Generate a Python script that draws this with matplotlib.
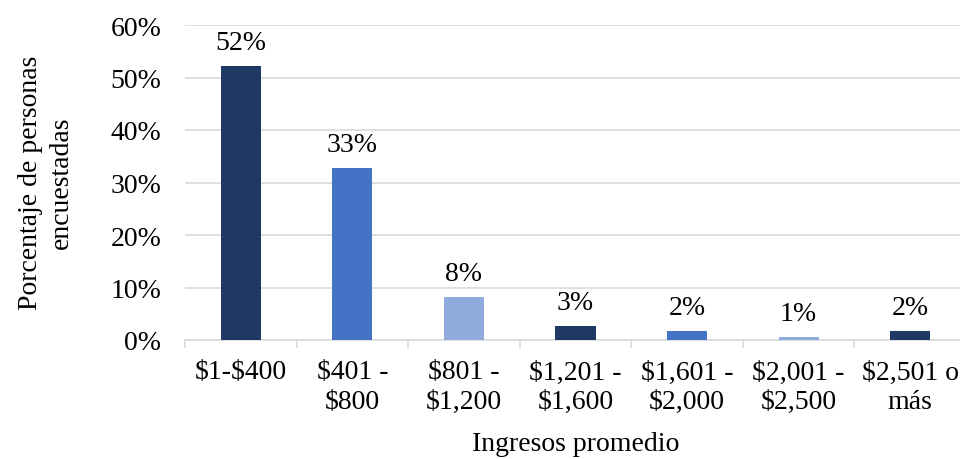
import matplotlib.pyplot as plt
from matplotlib.ticker import FixedLocator, PercentFormatter

plt.rcParams['font.family'] = ['Liberation Serif', 'DejaVu Serif']

# Distribución de ingresos de las personas encuestadas
rangos = ["\\$1-\\$400", "\\$401 -\n\\$800", "\\$801 -\n\\$1,200", "\\$1,201 -\n\\$1,600",
          "\\$1,601 -\n\\$2,000", "\\$2,001 -\n\\$2,500", "\\$2,501 o\nmás"]
porcentajes = [52.1, 32.7, 8.2, 2.6, 1.7, 0.6, 1.7]
colores = ["#203864", "#4472C4", "#8FAADC", "#203864", "#4472C4", "#8FAADC", "#203864"]

fs = 20

fig = plt.figure(figsize=(9.6, 4.6), dpi=100)
ax = fig.add_axes([185 / 960, 1 - 341 / 460, 781 / 960, 315 / 460])

x = range(len(rangos))
barras = ax.bar(x, porcentajes, width=0.36, color=colores, zorder=3)

for b, v in zip(barras, porcentajes):
    ax.annotate(f"{round(v):.0f}%", (b.get_x() + b.get_width() / 2, v),
                xytext=(0, 8), textcoords="offset points",
                ha="center", va="bottom", fontsize=fs)

ax.set_xlim(-0.5, len(rangos) - 0.5)
ax.set_ylim(0, 60)
ax.set_yticks(range(0, 61, 10))
ax.yaxis.set_major_formatter(PercentFormatter(decimals=0))
ax.grid(axis="y", color="#d9d9d9", linewidth=1.2, zorder=0)

ax.set_xticks(list(x))
ax.set_xticklabels(rangos, fontsize=fs, linespacing=1.25)
ax.xaxis.set_minor_locator(FixedLocator([i - 0.5 for i in range(len(rangos) + 1)]))
ax.tick_params(axis="x", which="major", length=0, pad=14)
ax.tick_params(axis="x", which="minor", length=6, width=1.2, color="#d9d9d9")
ax.tick_params(axis="y", length=0, labelsize=fs, pad=17)

for lado in ["top", "right", "left"]:
    ax.spines[lado].set_visible(False)
ax.spines["bottom"].set_color("#d9d9d9")
ax.spines["bottom"].set_linewidth(1.2)

ax.set_xlabel("Ingresos promedio", fontsize=fs, labelpad=12)
fig.text(46 / 960, 1 - 183 / 460, "Porcentaje de personas\nencuestadas",
         rotation=90, ha="center", va="center", fontsize=fs, linespacing=1.3)

fig.savefig("out.png", dpi=100)
